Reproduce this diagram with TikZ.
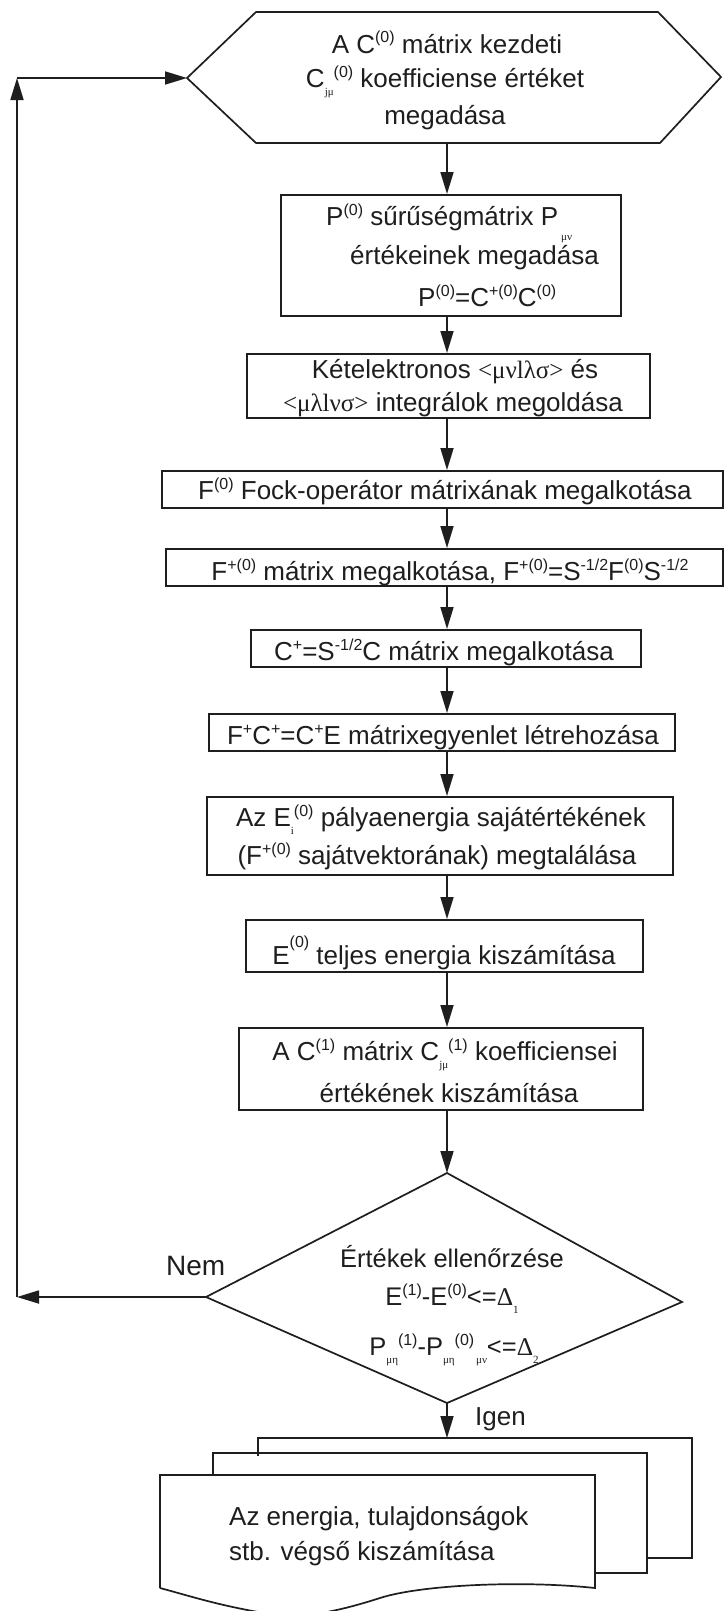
\documentclass[tikz,border=0pt]{standalone}
\usepackage{fontspec}
\setmainfont{Liberation Sans}
\newfontfamily\grk{Liberation Serif}
\usetikzlibrary{arrows.meta}
\definecolor{ink}{HTML}{1E1E1E}
\newcommand\upx[1]{\raisebox{10pt}{\fontsize{16}{16}\selectfont #1}}
\newcommand\dnx[1]{\raisebox{-8pt}{\fontsize{11}{11}\selectfont\grk #1}}
\newcommand\dupx[1]{\raisebox{10pt}{\fontsize{16}{16}\selectfont #1}}
\newcommand\ddnx[1]{\raisebox{-8pt}{\fontsize{11}{11}\selectfont\grk #1}}
\begin{document}
\begin{tikzpicture}[x=1pt,y=-1pt,
  box/.style={draw=ink,line width=1.7pt,inner sep=0pt,anchor=north west},
  txt/.style={inner sep=0pt,anchor=base,text=ink,font=\fontsize{26}{30}\selectfont},
  txtl/.style={txt,anchor=base west},
  dtxt/.style={inner sep=0pt,anchor=base,text=ink,font=\fontsize{25.5}{30}\selectfont},
  arr/.style={draw=ink,line width=1.7pt,-{Triangle[length=22pt,width=13pt]}},
  edge/.style={draw=ink,line width=1.7pt,line join=miter}
]
\fill[white] (0,0) rectangle (725,1611);
\useasboundingbox (0,0) rectangle (725,1611);
\coordinate (ax) at (447,0);

% start hexagon
\coordinate (hL) at (187,78);
\coordinate (hTL) at (256,12);
\coordinate (hTR) at (658,12);
\coordinate (hR) at (721,77);
\coordinate (hBR) at (660,143);
\coordinate (hBL) at (256,143);
\coordinate (hB) at (447,143);
\draw[edge] (hL) -- (hTL) -- (hTR) -- (hR) -- (hBR) -- (hBL) -- cycle;
\node[txt] (h1) at (447,53) {A C\upx{(0)} mátrix kezdeti};
\node[txt] (h2) at (445,88) {C\dnx{jμ}\upx{(0)} koefficiense értéket};
\node[txt] (h3) at (445,124) {megadása};

% boxes
\node[box,minimum width=340pt,minimum height=121pt] (b2) at (280,194) {};
\node[box,minimum width=403pt,minimum height=64pt] (b3) at (246,353) {};
\node[box,minimum width=561pt,minimum height=37pt] (b4) at (161,470) {};
\node[box,minimum width=557pt,minimum height=37pt] (b5) at (165,548) {};
\node[box,minimum width=390pt,minimum height=37pt] (b6) at (250,629) {};
\node[box,minimum width=466pt,minimum height=37pt] (b7) at (208,713) {};
\node[box,minimum width=466pt,minimum height=78pt] (b8) at (206,796) {};
\node[box,minimum width=397pt,minimum height=52pt] (b9) at (245,919) {};
\node[box,minimum width=404pt,minimum height=82pt] (b10) at (238,1027) {};

\node[txtl] (t2a) at (326,225) {P\upx{(0)} sűrűségmátrix P\hspace{3pt}\raisebox{-15pt}{\fontsize{11}{11}\selectfont\grk μν}};
\node[txtl] (t2b) at (350,264) {értékeinek megadása};
\node[txtl] (t2c) at (418,306) {P\upx{(0)}=C\upx{+(0)}C\upx{(0)}};
\node[txt] (t3a) at (455,378) {Kételektronos {\grk\fontsize{25}{25}\selectfont <μνlλσ>} és};
\node[txt] (t3b) at (453,411) {{\grk\fontsize{25}{25}\selectfont <μλlνσ>} integrálok megoldása};
\node[txt] (t4) at (445,499) {F\upx{(0)} Fock-operátor mátrixának megalkotása};
\node[txt] (t5) at (450,580) {F\upx{+(0)} mátrix megalkotása, F\upx{+(0)}=S\upx{-1/2}F\upx{(0)}S\upx{-1/2}};
\node[txt] (t6) at (444,660) {C\upx{+}=S\upx{-1/2}C mátrix megalkotása};
\node[txt] (t7) at (443,744) {F\upx{+}C\upx{+}=C\upx{+}E mátrixegyenlet létrehozása};
\node[txt] (t8a) at (441,826) {Az E\dnx{i}\upx{(0)} pályaenergia sajátértékének};
\node[txt] (t8b) at (437,864) {(F\upx{+(0)} sajátvektorának) megtalálása};
\node[txt] (t9) at (444,964) {E\raisebox{17pt}{\fontsize{16}{16}\selectfont (0)} teljes energia kiszámítása};
\node[txt] (t10a) at (445,1060) {A C\upx{(1)} mátrix C\dnx{jμ}\upx{(1)} koefficiensei};
\node[txt] (t10b) at (449,1102) {értékének kiszámítása};

% decision
\coordinate (dT) at (447,1173);
\coordinate (dR) at (682,1302);
\coordinate (dB) at (447,1403);
\coordinate (dL) at (206,1297);
\draw[edge] (dT) -- (dR) -- (dB) -- (dL) -- cycle;
\node[dtxt] (d1) at (452,1267) {Értékek ellenőrzése};
\node[dtxt] (d2) at (452,1305) {E\dupx{(1)}-E\dupx{(0)}<={\grk Δ}\ddnx{1}};
\node[dtxt] (d3) at (454,1355) {P\ddnx{μη}\dupx{(1)}-P\ddnx{μη}\dupx{(0)}\ddnx{\,μν}<={\grk Δ}\ddnx{2}};
\node[txtl,font=\fontsize{28}{30}\selectfont] (nem) at (166,1275) {Nem};
\node[txtl] (igen) at (475,1425) {Igen};

% multi-document
\coordinate (k3a) at (258,1456);
\coordinate (k3b) at (258,1438);
\coordinate (k3c) at (692,1438);
\coordinate (k3d) at (692,1558);
\coordinate (k3e) at (647,1558);
\coordinate (k3top) at (447,1438);
\coordinate (k2a) at (213,1475);
\coordinate (k2b) at (213,1453);
\coordinate (k2c) at (647,1453);
\coordinate (k2d) at (647,1573);
\coordinate (k2e) at (595,1573);
\coordinate (k1a) at (160,1475);
\coordinate (k1b) at (595,1475);
\coordinate (k1c) at (595,1588);
\coordinate (k1d) at (160,1588);
\draw[edge] (k3a) -- (k3b) -- (k3c) -- (k3d) -- (k3e);
\draw[edge] (k2a) -- (k2b) -- (k2c) -- (k2d) -- (k2e);
\draw[edge,fill=white] (k1d) -- (k1a) -- (k1b) -- (k1c)
  .. controls (520,1580) and (420,1585) .. (380,1598)
  .. controls (330,1614) and (300,1618) .. (270,1614)
  .. controls (220,1606) and (190,1596) .. (k1d);
\node[txtl] (k1) at (229,1525) {Az energia, tulajdonságok};
\node[txtl] (k2) at (229,1560) {stb. végső kiszámítása};

% main flow arrows
\draw[arr] (hB) -- (b2.north -| ax);
\draw[arr] (b2.south -| ax) -- (b3.north -| ax);
\draw[arr] (b3.south -| ax) -- (b4.north -| ax);
\draw[arr] (b4.south -| ax) -- (b5.north -| ax);
\draw[arr] (b5.south -| ax) -- (b6.north -| ax);
\draw[arr] (b6.south -| ax) -- (b7.north -| ax);
\draw[arr] (b7.south -| ax) -- (b8.north -| ax);
\draw[arr] (b8.south -| ax) -- (b9.north -| ax);
\draw[arr] (b9.south -| ax) -- (b10.north -| ax);
\draw[arr] (b10.south -| ax) -- (dT);
\draw[arr] (dB) -- (k3top);

% loop back
\coordinate (lb) at (17,1297);
\coordinate (lt) at (17,78);
\draw[arr] (dL) -- (lb);
\draw[arr] (lb) -- (lt);
\draw[arr] (lt) -- (hL);
\end{tikzpicture}
\end{document}
